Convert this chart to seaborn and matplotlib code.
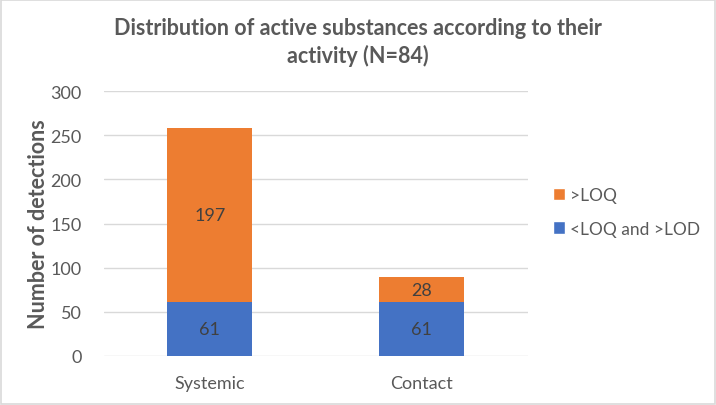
import matplotlib
matplotlib.use("Agg")
import matplotlib.pyplot as plt
import seaborn as sns
import pandas as pd
from matplotlib.patches import Patch, Rectangle

categories = ["Systemic", "Contact"]
below_loq = [61, 61]
above_loq = [197, 28]
series_names = ["<LOQ and >LOD", ">LOQ"]
title = "Distribution of active substances according to their\nactivity (N=84)"
ylabel = "Number of detections"

BLUE = "#4472C4"
ORANGE = "#ED7D31"
GRAY = "#595959"

sns.set_theme(style="white")
plt.rcParams["font.family"] = ["Lato", "DejaVu Sans"]

fig = plt.figure(figsize=(7.16, 4.06), dpi=100)
ax = fig.add_axes([0.145, 0.121, 0.592, 0.652])

df = pd.DataFrame({"cat": categories, "low": below_loq, "high": above_loq})
df["total"] = df["low"] + df["high"]

sns.barplot(data=df, x="cat", y="total", color=ORANGE, width=0.4, ax=ax,
            saturation=1, edgecolor="none")
sns.barplot(data=df, x="cat", y="low", color=BLUE, width=0.4, ax=ax,
            saturation=1, edgecolor="none")

for i, (lo, hi) in enumerate(zip(below_loq, above_loq)):
    ax.text(i, lo / 2, str(lo), ha="center", va="center", fontsize=13, color="#404040")
    ax.text(i, lo + hi / 2, str(hi), ha="center", va="center", fontsize=13, color="#404040")

ax.set_ylim(0, 300)
ax.set_xlim(-0.5, 1.5)
ax.set_yticks(range(0, 301, 50))
ax.yaxis.grid(True, color="#D9D9D9", linewidth=1)
ax.set_axisbelow(True)
for s in ax.spines.values():
    s.set_visible(False)
ax.tick_params(axis="both", length=0, labelsize=13, labelcolor=GRAY)
ax.tick_params(axis="x", pad=14)
ax.tick_params(axis="y", pad=16)
ax.set_xlabel("")
ax.set_ylabel(ylabel, fontsize=15.5, fontweight="bold", color=GRAY, labelpad=1)

fig.text(0.5, 0.895, title, ha="center", va="center", fontsize=15.5,
         fontweight="bold", color=GRAY, linespacing=1.35)

handles = [Patch(facecolor=ORANGE, label=series_names[1]),
           Patch(facecolor=BLUE, label=series_names[0])]
leg = fig.legend(handles=handles, loc="upper left", bbox_to_anchor=(0.75, 0.575),
                 frameon=False, fontsize=12.5, handlelength=0.7, handleheight=0.7,
                 handletextpad=0.3, labelspacing=1.0, labelcolor=GRAY)

fig.patches.append(Rectangle((0.001, 0.002), 0.997, 0.996, transform=fig.transFigure,
                             fill=False, edgecolor="#D9D9D9", linewidth=1.2))

fig.savefig("out.png", dpi=100)
